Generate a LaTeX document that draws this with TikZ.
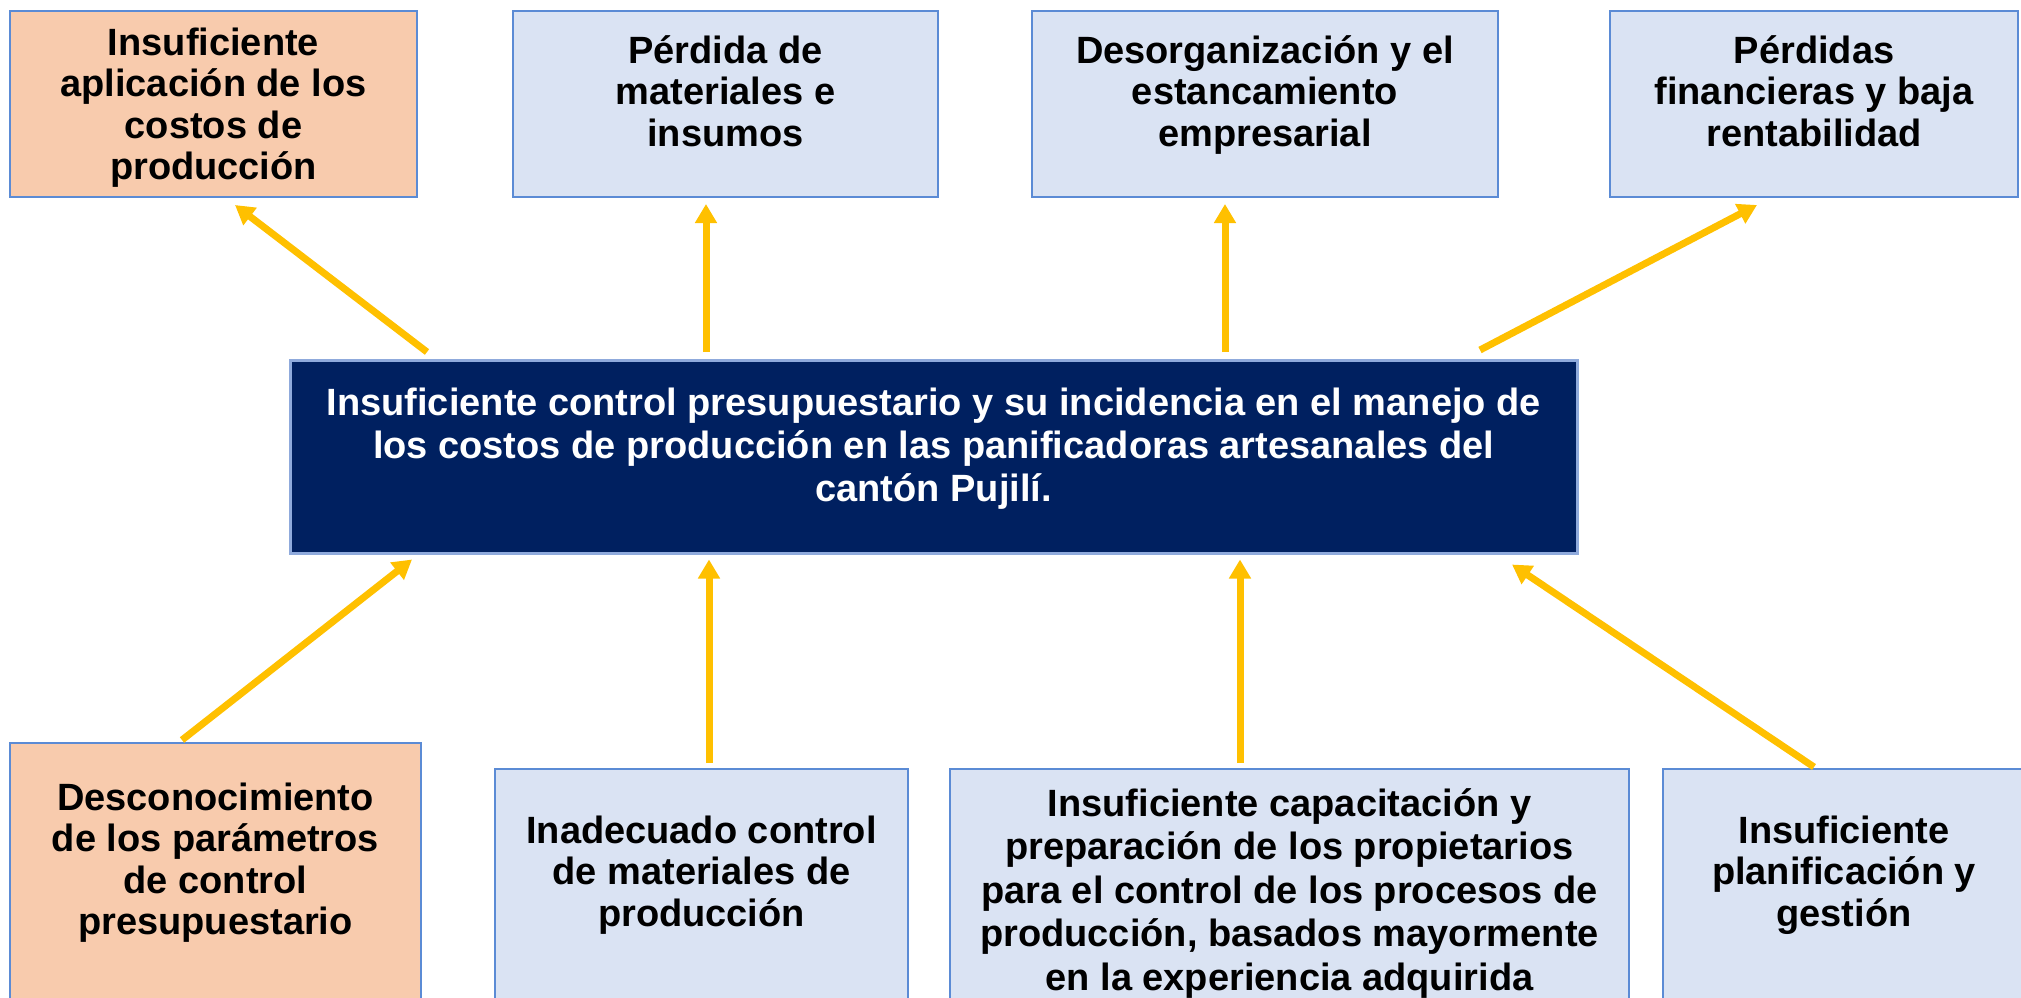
\documentclass[tikz,border=0pt]{standalone}
\usepackage{fontspec}
\setmainfont{Liberation Sans}
\usetikzlibrary{arrows.meta}
\definecolor{lblue}{HTML}{DAE3F3}
\definecolor{bblue}{HTML}{5B8BD5}
\definecolor{lorange}{HTML}{F8CBAD}
\definecolor{navy}{HTML}{002060}
\definecolor{navyedge}{HTML}{8FAADC}
\definecolor{arrowc}{HTML}{FFC000}
\newcommand{\bxt}[5]{\parbox[c][#2][t]{#1}{\fontsize{38}{#4}\selectfont\bfseries\centering\vspace*{#3}\strut #5}}
\tikzset{
  bluebox/.style={draw=bblue, fill=lblue, line width=2pt, inner sep=0pt, anchor=north west},
  orangebox/.style={draw=bblue, fill=lorange, line width=2pt, inner sep=0pt, anchor=north west},
  navybox/.style={draw=navyedge, fill=navy, text=white, line width=2.5pt, inner sep=0pt, anchor=north west},
  arr/.style={draw=arrowc, line width=7pt, -{Triangle[length=19pt,width=21pt]}}
}
\begin{document}
\begin{tikzpicture}[x=1pt,y=-1pt]
\useasboundingbox (0,0) rectangle (2021,997);
\clip (0,0) rectangle (2021,997);
% top row
\node[orangebox] (t1) at (9,10) {\bxt{407pt}{186pt}{15pt}{41.5pt}{Insuficiente\\aplicación de los\\costos de\\producción}};
\node[bluebox] (t2) at (512,10) {\bxt{425pt}{186pt}{23pt}{41.5pt}{Pérdida de\\materiales e\\insumos}};
\node[bluebox] (t3) at (1031,10) {\bxt{466pt}{186pt}{23pt}{41.5pt}{Desorganización y el\\estancamiento\\empresarial}};
\node[bluebox] (t4) at (1609,10) {\bxt{408pt}{186pt}{23pt}{41.5pt}{Pérdidas\\financieras y baja\\rentabilidad}};
% central
\node[navybox] (c) at (289,359) {\bxt{1287pt}{193pt}{25pt}{43pt}{Insuficiente control presupuestario y su incidencia en el manejo de\\los costos de producción en las panificadoras artesanales del\\cantón Pujilí.}};
% bottom row
\node[orangebox] (b1) at (9,742) {\bxt{411pt}{280pt}{38pt}{41.5pt}{Desconocimiento\\de los parámetros\\de control\\presupuestario}};
\node[bluebox] (b2) at (494,768) {\bxt{413pt}{260pt}{45pt}{41.5pt}{Inadecuado control\\de materiales de\\producción}};
\node[bluebox] (b3) at (949,768) {\bxt{679pt}{260pt}{17pt}{43.5pt}{Insuficiente capacitación y\\preparación de los propietarios\\para el control de los procesos de\\producción, basados mayormente\\en la experiencia adquirida}};
\node[bluebox] (b4) at (1662,768) {\bxt{362pt}{260pt}{45pt}{41.5pt}{Insuficiente\\planificación y\\gestión}};
% arrows up to effects
\draw[arr] ([shift={(138,-7)}]c.north west) -- ([shift={(226,7)}]t1.south west);
\draw[arr] ([shift={(417,-7)}]c.north west) -- ([shift={(194,6)}]t2.south west);
\draw[arr] ([shift={(936,-7)}]c.north west) -- ([shift={(194,6)}]t3.south west);
\draw[arr] ([shift={(1191,-9)}]c.north west) -- ([shift={(148,7)}]t4.south west);
% arrows from causes
\draw[arr] ([shift={(173,-2)}]b1.north west) -- ([shift={(123,5)}]c.south west);
\draw[arr] ([shift={(215,-5)}]b2.north west) -- ([shift={(420,5)}]c.south west);
\draw[arr] ([shift={(291,-5)}]b3.north west) -- ([shift={(951,5)}]c.south west);
\draw[arr] ([shift={(152,-1)}]b4.north west) -- ([shift={(1223,10)}]c.south west);
\end{tikzpicture}
\end{document}
